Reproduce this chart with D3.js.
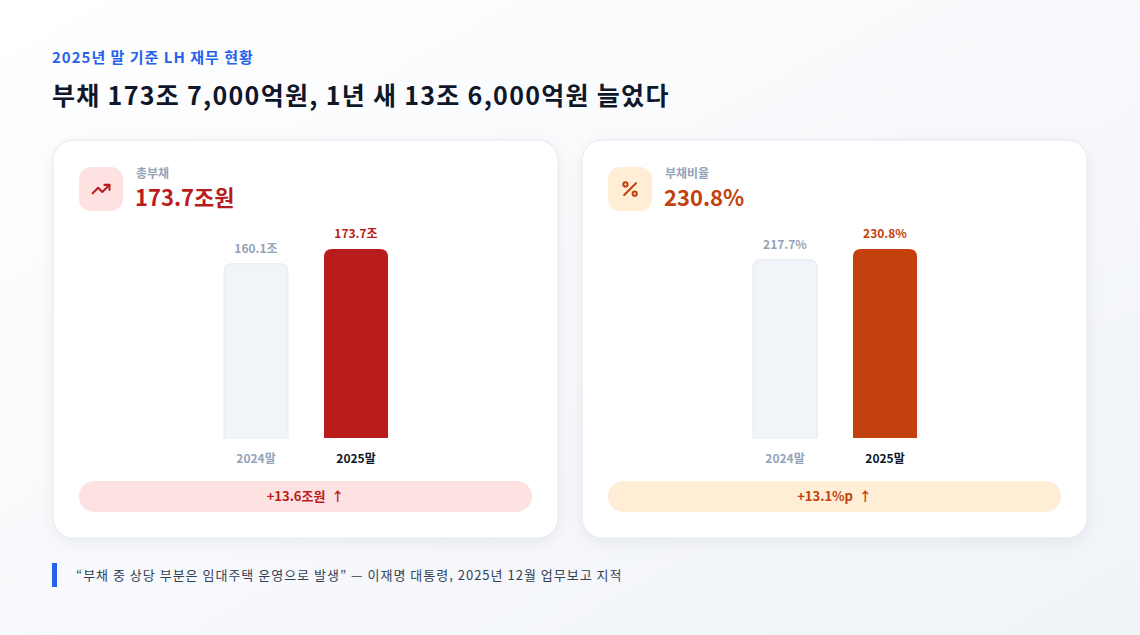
<!DOCTYPE html>
<html>
<head>
<meta charset="utf-8">
<script src="https://cdn.jsdelivr.net/npm/d3@7"></script>
<style>
  html, body { margin: 0; padding: 0; }
  body { width: 1140px; height: 635px; overflow: hidden; font-family: "Noto Sans CJK KR", "Noto Sans", sans-serif; }
</style>
</head>
<body>
<div id="chart"></div>
<script>
var w = 1140,
    h = 635;

// data
var periods = ["2024말", "2025말"];
var debtValues = [160.1, 173.7];
var ratioValues = [217.7, 230.8];
var debtLabels = ["160.1조", "173.7조"];
var ratioLabels = ["217.7%", "230.8%"];
var cardTitles = ["총부채", "부채비율"];
var cardValues = ["173.7조원", "230.8%"];
var changeTexts = ["+13.6조원  ↑", "+13.1%p  ↑"];

var svg = d3.select("#chart")
            .append("svg")
            .attr("width", w)
            .attr("height", h);

var defs = svg.append("defs");

var bg = defs.append("linearGradient")
             .attr("id", "bg")
             .attr("x1", "0").attr("y1", "0")
             .attr("x2", "1").attr("y2", "1");
bg.append("stop").attr("offset", "0%").attr("stop-color", "#ffffff");
bg.append("stop").attr("offset", "100%").attr("stop-color", "#f0f3f8");

var shadow = defs.append("filter")
                 .attr("id", "shadow")
                 .attr("x", "-10%").attr("y", "-10%")
                 .attr("width", "120%").attr("height", "130%");
shadow.append("feDropShadow")
      .attr("dx", 0).attr("dy", 4)
      .attr("stdDeviation", 8)
      .attr("flood-color", "#0f172a")
      .attr("flood-opacity", 0.06);

svg.append("rect")
   .attr("width", w)
   .attr("height", h)
   .attr("fill", "url(#bg)");

// header
svg.append("text")
   .attr("x", 52).attr("y", 63)
   .attr("font-size", "15px")
   .attr("font-weight", 700)
   .attr("letter-spacing", "1px")
   .attr("fill", "#2563eb")
   .text("2025년 말 기준 LH 재무 현황");

svg.append("text")
   .attr("x", 52).attr("y", 105)
   .attr("font-size", "25px")
   .attr("font-weight", 700)
   .attr("letter-spacing", "1.3px")
   .attr("fill", "#0f172a")
   .text("부채 173조 7,000억원, 1년 새 13조 6,000억원 늘었다");

// cards
var cards = [
  { x: 53, values: debtValues, labels: debtLabels, color: "#b91c1c", soft: "#fee2e2", icon: "trend" },
  { x: 582, values: ratioValues, labels: ratioLabels, color: "#c2410c", soft: "#ffedd5", icon: "percent" }
];

var cardW = 505,
    cardH = 398,
    cardY = 140,
    barW = 64,
    baseY = 438,
    barTopMax = 249;

function topRoundedBar(x, y, bw, bh, r) {
  r = Math.min(r, bh);
  return "M" + x + "," + (y + bh) +
         "V" + (y + r) +
         "Q" + x + "," + y + " " + (x + r) + "," + y +
         "H" + (x + bw - r) +
         "Q" + (x + bw) + "," + y + " " + (x + bw) + "," + (y + r) +
         "V" + (y + bh) + "Z";
}

cards.forEach(function(c, ci) {
  var g = svg.append("g").attr("transform", "translate(" + c.x + "," + cardY + ")");

  g.append("rect")
   .attr("width", cardW)
   .attr("height", cardH)
   .attr("rx", 20)
   .attr("fill", "#ffffff")
   .attr("stroke", "#e2e8f0")
   .attr("filter", "url(#shadow)");

  // icon box
  g.append("rect")
   .attr("x", 26).attr("y", 27)
   .attr("width", 44).attr("height", 44)
   .attr("rx", 12)
   .attr("fill", c.soft);

  var ig = g.append("g")
            .attr("transform", "translate(38,39) scale(0.84)")
            .attr("fill", "none")
            .attr("stroke", c.color)
            .attr("stroke-width", 2.4)
            .attr("stroke-linecap", "round")
            .attr("stroke-linejoin", "round");
  if (c.icon === "trend") {
    ig.append("polyline").attr("points", "22 7 13.5 15.5 8.5 10.5 2 17");
    ig.append("polyline").attr("points", "16 7 22 7 22 13");
  } else {
    ig.append("line").attr("x1", 19).attr("y1", 5).attr("x2", 5).attr("y2", 19);
    ig.append("circle").attr("cx", 6.5).attr("cy", 6.5).attr("r", 2.5);
    ig.append("circle").attr("cx", 17.5).attr("cy", 17.5).attr("r", 2.5);
  }

  g.append("text")
   .attr("x", 83).attr("y", 38)
   .attr("font-size", "12px")
   .attr("font-weight", 700)
   .attr("fill", "#94a3b8")
   .text(cardTitles[ci]);

  g.append("text")
   .attr("x", 82).attr("y", 66)
   .attr("font-size", "22px")
   .attr("font-weight", 700)
   .attr("fill", c.color)
   .text(cardValues[ci]);

  // bars
  var x = d3.scaleBand()
            .domain(periods)
            .range([171, 335])
            .paddingInner(0.36);

  var y = d3.scaleLinear()
            .domain([0, d3.max(c.values)])
            .range([baseY - cardY, barTopMax - cardY]);

  g.selectAll("path.bar")
   .data(c.values)
   .enter()
   .append("path")
   .attr("class", "bar")
   .attr("d", function(d, i) {
     var bx = x(periods[i]) + (x.bandwidth() - barW) / 2;
     return topRoundedBar(bx, y(d), barW, y(0) - y(d), 8);
   })
   .attr("fill", function(d, i) { return i === 1 ? c.color : "#f1f5f9"; })
   .attr("stroke", function(d, i) { return i === 1 ? "none" : "#e2e8f0"; })
   .attr("stroke-width", 1);

  g.selectAll("text.vlabel")
   .data(c.values)
   .enter().append("text")
   .attr("class", "vlabel")
   .attr("x", function(d, i) { return x(periods[i]) + x.bandwidth() / 2; })
   .attr("y", function(d) { return y(d) - 11; })
   .attr("text-anchor", "middle")
   .attr("font-size", "12px")
   .attr("font-weight", 700)
   .attr("fill", function(d, i) { return i === 1 ? c.color : "#94a3b8"; })
   .text(function(d, i) { return c.labels[i]; });

  g.selectAll("text.xlabel")
   .data(periods)
   .enter().append("text")
   .attr("class", "xlabel")
   .attr("x", function(d) { return x(d) + x.bandwidth() / 2; })
   .attr("y", 323)
   .attr("text-anchor", "middle")
   .attr("font-size", "12px")
   .attr("font-weight", 700)
   .attr("fill", function(d, i) { return i === 1 ? "#0f172a" : "#94a3b8"; })
   .text(function(d) { return d; });

  // change pill
  g.append("rect")
   .attr("x", 26).attr("y", 341)
   .attr("width", 453).attr("height", 31)
   .attr("rx", 15.5)
   .attr("fill", c.soft);

  g.append("text")
   .attr("x", 26 + 453 / 2).attr("y", 361)
   .attr("text-anchor", "middle")
   .attr("font-size", "13px")
   .attr("font-weight", 700)
   .attr("fill", c.color)
   .style("white-space", "pre")
   .text(changeTexts[ci]);
});

// quote
svg.append("rect")
   .attr("x", 52).attr("y", 563)
   .attr("width", 5).attr("height", 24)
   .attr("fill", "#2563eb");

svg.append("text")
   .attr("x", 76).attr("y", 580)
   .attr("font-size", "13px")
   .attr("letter-spacing", "1px")
   .attr("fill", "#334155")
   .text("“부채 중 상당 부분은 임대주택 운영으로 발생” — 이재명 대통령, 2025년 12월 업무보고 지적");
</script>
</body>
</html>
